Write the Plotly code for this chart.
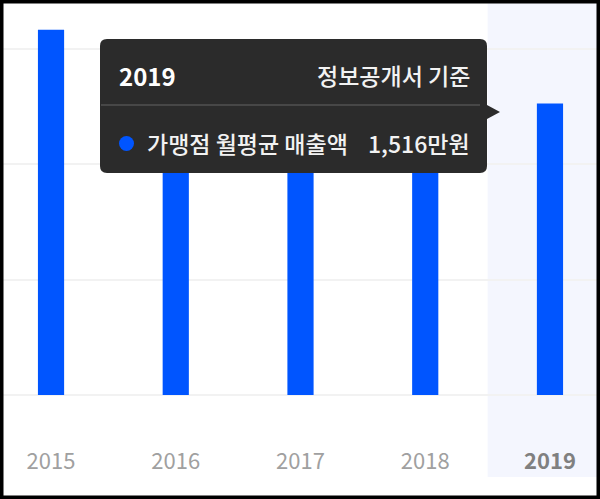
import plotly.graph_objects as go

# 가맹점 월평균 매출액 (만원), 정보공개서 기준
years = ["2015", "2016", "2017", "2018", "2019"]
sales = [1900, 1700, 1640, 1580, 1516]
selected = "2019"

W, H = 600, 499
M = dict(l=3, r=3, t=3, b=104)
PW = W - M["l"] - M["r"]
PH = H - M["t"] - M["b"]

FONT = "Noto Sans CJK KR, Noto Sans, sans-serif"
BLUE = "#0055ff"
TIP_BG = "#2b2b2b"


# pixel -> paper helpers (for the tooltip overlay)
def px(x):
    return (x - M["l"]) / PW


def py(y):
    return (H - M["b"] - y) / PH


sel_idx = years.index(selected)
tick_text = [
    f"<b><span style='color:#808080'>{y}</span></b>" if y == selected else y
    for y in years
]

fig = go.Figure(go.Bar(
    x=list(range(len(years))),
    y=sales,
    width=0.21,
    marker=dict(color=BLUE, line=dict(width=0)),
    hoverinfo="skip",
))

shapes = []
# highlighted column behind the selected year
shapes.append(dict(
    type="rect", xref="x", yref="paper",
    x0=sel_idx - 0.5, x1=sel_idx + 0.5, y0=py(477), y1=1,
    fillcolor="#f4f6fe", line=dict(width=0), layer="below",
))

# tooltip box (rounded) with arrow
x0, x1, y0, y1, r = 100, 487, 39, 173, 7
path = (
    f"M {px(x0 + r)},{py(y0)} L {px(x1 - r)},{py(y0)} "
    f"Q {px(x1)},{py(y0)} {px(x1)},{py(y0 + r)} "
    f"L {px(x1)},{py(105)} L {px(500)},{py(112)} L {px(x1)},{py(119)} "
    f"L {px(x1)},{py(y1 - r)} Q {px(x1)},{py(y1)} {px(x1 - r)},{py(y1)} "
    f"L {px(x0 + r)},{py(y1)} Q {px(x0)},{py(y1)} {px(x0)},{py(y1 - r)} "
    f"L {px(x0)},{py(y0 + r)} Q {px(x0)},{py(y0)} {px(x0 + r)},{py(y0)} Z"
)
shapes.append(dict(type="path", xref="paper", yref="paper", path=path,
                   fillcolor=TIP_BG, line=dict(width=0), layer="above"))
shapes.append(dict(type="line", xref="paper", yref="paper",
                   x0=px(101), x1=px(480), y0=py(105), y1=py(105),
                   line=dict(color="#474747", width=2), layer="above"))
shapes.append(dict(type="circle", xref="paper", yref="paper",
                   x0=px(119), x1=px(134), y0=py(136), y1=py(151),
                   fillcolor=BLUE, line=dict(width=0), layer="above"))

# outer black frame
shapes.append(dict(type="rect", xref="paper", yref="paper",
                   x0=px(0), x1=px(W), y0=py(H), y1=py(0),
                   line=dict(color="black", width=7), fillcolor="rgba(0,0,0,0)",
                   layer="above"))

val_txt = f"{sales[sel_idx]:,}만원"
annotations = [
    dict(text=f"<b>{selected}</b>", x=px(117), y=py(75), xanchor="left", yanchor="middle",
         font=dict(size=24, color="white", family=FONT)),
    dict(text="정보공개서 기준", x=px(472), y=py(75), xanchor="right", yanchor="middle",
         font=dict(size=23, color="#f2f2f2", family=FONT, weight=500)),
    dict(text="가맹점 월평균 매출액", x=px(145), y=py(143), xanchor="left", yanchor="middle",
         font=dict(size=23, color="#f2f2f2", family=FONT, weight=500)),
    dict(text=val_txt, x=px(472), y=py(143), xanchor="right", yanchor="middle",
         font=dict(size=23, color="#f2f2f2", family=FONT, weight=500)),
]
for a in annotations:
    a.update(xref="paper", yref="paper", showarrow=False)

fig.update_layout(
    width=W, height=H, margin=M,
    paper_bgcolor="white", plot_bgcolor="rgba(0,0,0,0)",
    showlegend=False,
    font=dict(family=FONT),
    xaxis=dict(
        range=[-0.385, 4.377], tickvals=list(range(len(years))), ticktext=tick_text,
        showgrid=False, zeroline=False, showline=False, ticks="",
        tickfont=dict(size=22, color="#a0a0a0", family=FONT),
        ticklabelstandoff=51,
    ),
    yaxis=dict(
        range=[0, 2039], dtick=600, showticklabels=False, ticks="",
        showgrid=True, gridcolor="#f2f2f2", gridwidth=1.5,
        zeroline=True, zerolinecolor="#f2f2f2", zerolinewidth=1.5, showline=False,
    ),
    shapes=shapes,
    annotations=annotations,
)

fig.write_html("out.html", config={"displayModeBar": False},
               post_script="document.body.style.margin = '0px';")
